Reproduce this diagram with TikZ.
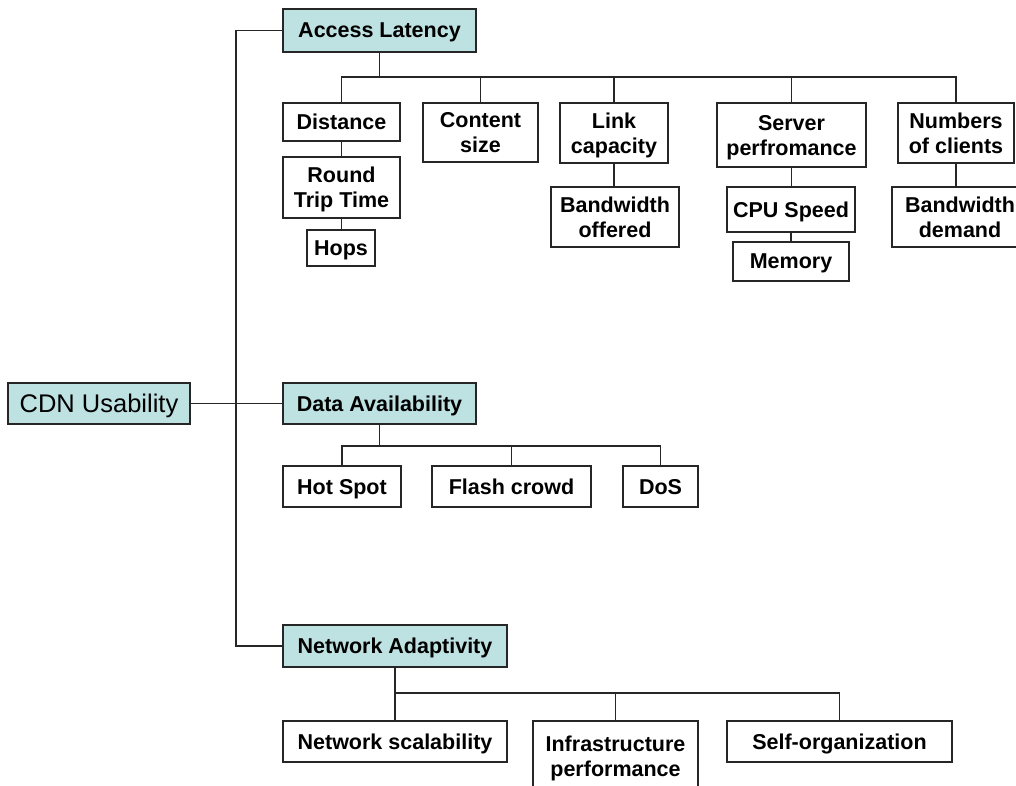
\documentclass[tikz,border=0pt]{standalone}
\usepackage{fontspec}
\setmainfont{Liberation Sans}
\begin{document}
\begin{tikzpicture}[x=1pt,y=-1pt,
  line width=1.4pt,
  boxstyle/.style={draw=black!85, line width=1.4pt, inner sep=0pt, align=center,
    text depth=0pt, font=\fontsize{21.5}{25}\selectfont\bfseries},
  headbox/.style={boxstyle, fill=headfill},
  link/.style={draw=black!85, line width=1.4pt}
]
\definecolor{headfill}{RGB}{190,225,226}
\useasboundingbox (0,0) rectangle (1016,786);
\clip (0,0) rectangle (1016,786);
\fill[white] (0,0) rectangle (1016,786);

% root and first level
\node[headbox, minimum width=182pt, minimum height=41pt,
      font=\fontsize{25.5}{28}\selectfont] (cdn) at (99,403.5) {CDN Usability};
\node[headbox, minimum width=193pt, minimum height=43pt] (al) at (379.5,30.5) {Access Latency};
\node[headbox, minimum width=193pt, minimum height=41pt] (da) at (379.5,403.5) {Data Availability};
\node[headbox, minimum width=224pt, minimum height=42pt] (na) at (395,646) {Network Adaptivity};

% access latency factors
\node[boxstyle, minimum width=117pt, minimum height=38pt] (dist) at (341.5,122) {Distance};
\node[boxstyle, minimum width=117pt, minimum height=61pt] (rtt) at (341.5,187.5) {Round\\Trip Time};
\node[boxstyle, minimum width=68pt, minimum height=36pt] (hops) at (341,248) {Hops};
\node[boxstyle, minimum width=115pt, minimum height=59pt] (csize) at (480.5,132.5) {Content\\size};
\node[boxstyle, minimum width=108pt, minimum height=60pt] (lcap) at (614,133) {Link\\capacity};
\node[boxstyle, minimum width=128pt, minimum height=60pt] (bwo) at (615,217) {Bandwidth\\offered};
\node[boxstyle, minimum width=149pt, minimum height=64pt] (srv) at (791.5,135) {Server\\perfromance};
\node[boxstyle, minimum width=128pt, minimum height=45pt] (cpu) at (791,209.5) {CPU Speed};
\node[boxstyle, minimum width=116pt, minimum height=39pt] (mem) at (791,261.5) {Memory};
\node[boxstyle, minimum width=116pt, minimum height=60pt] (ncl) at (956,133) {Numbers\\of clients};
\node[boxstyle, minimum width=136pt, minimum height=60pt] (bwd) at (960,217) {Bandwidth\\demand};

% data availability factors
\node[boxstyle, minimum width=118pt, minimum height=41pt] (hot) at (342,486.5) {Hot Spot};
\node[boxstyle, minimum width=159pt, minimum height=41pt] (flash) at (511.5,486.5) {Flash crowd};
\node[boxstyle, minimum width=75pt, minimum height=41pt] (dos) at (660.5,486.5) {DoS};

% network adaptivity factors
\node[boxstyle, minimum width=224pt, minimum height=41pt] (nscal) at (395,741.5) {Network scalability};
\node[boxstyle, minimum width=165pt, minimum height=70pt] (infra) at (615.5,756) {Infrastructure\\performance};
\node[boxstyle, minimum width=225pt, minimum height=41pt] (selforg) at (839.5,741.5) {Self-organization};

% bus levels and trunk
\coordinate (trunk) at (236,0);
\coordinate (albus) at (0,77);
\coordinate (dabus) at (0,446);
\coordinate (nabus) at (0,693);

% root connectors
\draw[link] (cdn.east) -- (da.west);
\draw[link] (al.west) -| (trunk |- na.west) -- (na.west);

% access latency tree
\foreach \c in {dist,csize,lcap,srv,ncl}
  \draw[link] (al.south) -- (al.south |- albus) -| (\c.north);
\draw[link] (dist.south) -- (rtt.north);
\draw[link] (rtt.south) -- (rtt.south |- hops.north);
\draw[link] (lcap.south) -- (lcap.south |- bwo.north);
\draw[link] (srv.south) -- (srv.south |- cpu.north);
\draw[link] (cpu.south) -- (mem.north);
\draw[link] (ncl.south) -- (ncl.south |- bwd.north);

% data availability tree
\foreach \c in {hot,flash,dos}
  \draw[link] (da.south) -- (da.south |- dabus) -| (\c.north);

% network adaptivity tree
\foreach \c in {nscal,infra,selforg}
  \draw[link] (na.south) -- (na.south |- nabus) -| (\c.north);
\end{tikzpicture}
\end{document}
